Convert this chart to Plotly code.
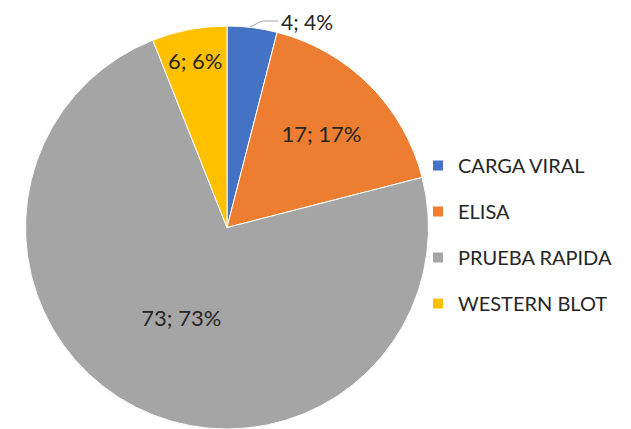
import plotly.graph_objects as go

# Datos
categorias = ['CARGA VIRAL', 'ELISA', 'PRUEBA RAPIDA', 'WESTERN BLOT']
valores = [4, 17, 73, 6]
colores = ['#4472C4', '#ED7D31', '#A5A5A5', '#FFC000']

W, H = 631, 429
OFF = 8  # margen por defecto del <body> en la página
total = sum(valores)
etiquetas = [f'{v}; {round(100 * v / total)}%' for v in valores]


def px_x(x):
    return (x - OFF) / W


def px_y(y):
    return 1 - (y - OFF) / H


fig = go.Figure()

# Pastel principal (la primera etiqueta va fuera, con línea guía)
fig.add_trace(go.Pie(
    labels=categorias,
    values=valores,
    sort=False,
    direction='clockwise',
    rotation=0,
    marker={'colors': colores, 'line': {'color': 'white', 'width': 1}},
    text=[''] + etiquetas[1:],
    textinfo='text',
    textposition='inside',
    insidetextorientation='horizontal',
    textfont={'family': 'Lato', 'size': 22, 'color': '#262626'},
    showlegend=False,
    hoverinfo='label+value+percent',
    domain={'x': [px_x(25), px_x(429)], 'y': [px_y(429), px_y(26)]},
))

# Etiqueta exterior de CARGA VIRAL
fig.add_annotation(
    x=px_x(280), y=px_y(8), xref='paper', yref='paper',
    xanchor='left', yanchor='top',
    text=etiquetas[0], showarrow=False, borderpad=0,
    font={'family': 'Lato', 'size': 21, 'color': '#262626'},
)
fig.add_shape(
    type='path', xref='paper', yref='paper',
    path=f'M {px_x(250)} {px_y(27)} L {px_x(262)} {px_y(21)} L {px_x(278)} {px_y(21)}',
    line={'color': '#A6A6A6', 'width': 1},
)

# Leyenda con marcadores cuadrados
for cat, col in zip(categorias, colores):
    fig.add_trace(go.Scatter(
        x=[None], y=[None],
        mode='markers',
        name=cat,
        legendgroup=cat,
        marker={'symbol': 'square', 'size': 10, 'color': col},
        showlegend=True,
    ))

fig.update_layout(
    width=W,
    height=H,
    paper_bgcolor='white',
    plot_bgcolor='white',
    margin={'l': 0, 'r': 0, 't': 0, 'b': 0},
    xaxis={'visible': False},
    yaxis={'visible': False},
    legend={
        'x': px_x(418), 'y': px_y(234.5),
        'xanchor': 'left', 'yanchor': 'middle',
        'bgcolor': 'rgba(0,0,0,0)',
        'font': {'family': 'Lato', 'size': 20, 'color': '#262626'},
        'tracegroupgap': 17,
        'itemwidth': 30,
    },
)

fig.write_html("out.html")
